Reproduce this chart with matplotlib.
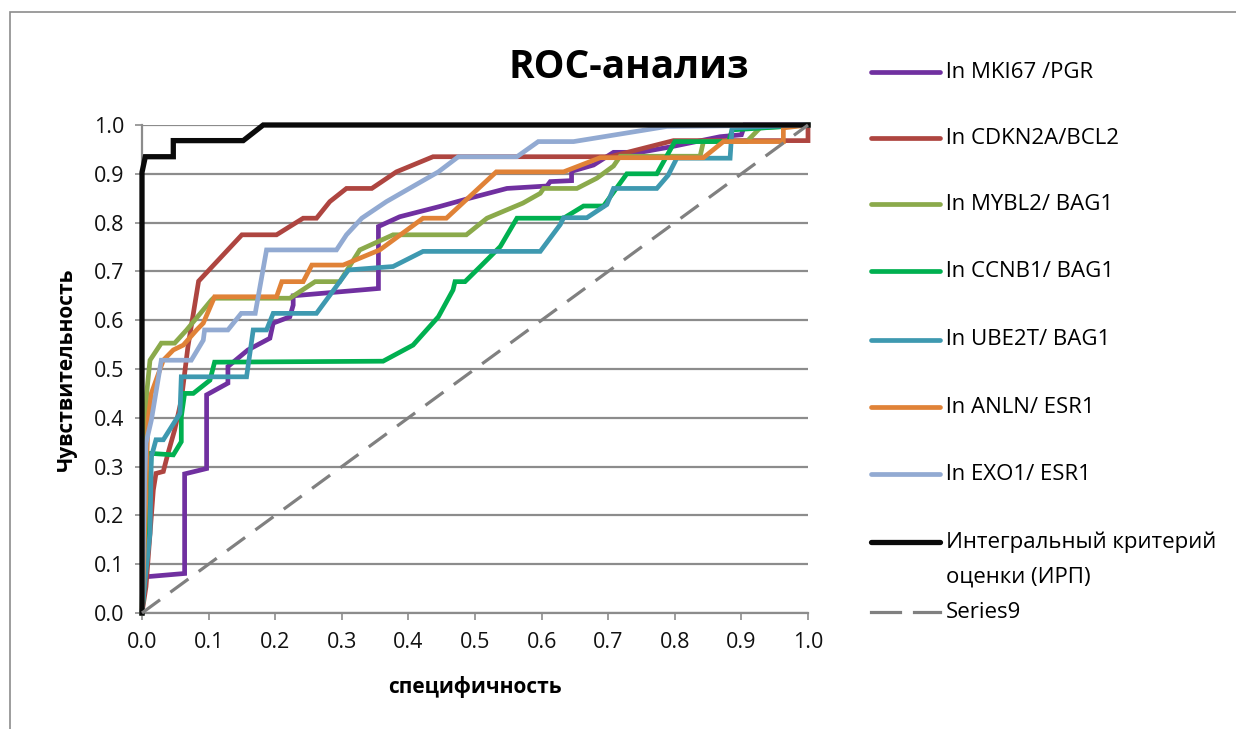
import matplotlib
matplotlib.use("Agg")
import matplotlib.pyplot as plt
from matplotlib.lines import Line2D
from matplotlib.patches import Rectangle

plt.rcParams["font.family"] = ["Open Sans", "DejaVu Sans"]

# ROC curves (x = specificity axis, y = sensitivity)
mki67_x = [0, 0.004, 0.064, 0.064, 0.097, 0.097, 0.129, 0.129, 0.159, 0.192, 0.197, 0.222, 0.227, 0.227,
           0.355, 0.355, 0.387, 0.447, 0.492, 0.548, 0.608, 0.613, 0.645, 0.645, 0.678, 0.708, 0.748,
           0.793, 0.868, 0.900, 0.905, 1.0]
mki67_y = [0, 0.074, 0.081, 0.285, 0.296, 0.447, 0.471, 0.505, 0.539, 0.563, 0.594, 0.607, 0.631, 0.650,
           0.665, 0.792, 0.812, 0.833, 0.850, 0.870, 0.875, 0.884, 0.886, 0.905, 0.918, 0.944, 0.944,
           0.955, 0.976, 0.980, 1.0, 1.0]

cdkn2a_x = [0, 0.006, 0.017, 0.021, 0.032, 0.039, 0.049, 0.059, 0.069, 0.085, 0.150, 0.202, 0.242, 0.262,
            0.282, 0.307, 0.345, 0.382, 0.437, 0.703, 0.798, 1.0, 1.0]
cdkn2a_y = [0, 0.054, 0.252, 0.286, 0.290, 0.327, 0.375, 0.436, 0.546, 0.680, 0.775, 0.775, 0.809, 0.809,
            0.843, 0.870, 0.870, 0.904, 0.935, 0.935, 0.968, 0.968, 1.0]

mybl2_x = [0, 0.004, 0.007, 0.012, 0.029, 0.049, 0.067, 0.104, 0.107, 0.222, 0.26, 0.297, 0.327, 0.377,
           0.487, 0.518, 0.572, 0.598, 0.603, 0.653, 0.683, 0.708, 0.718, 0.838, 0.843, 0.908, 0.928, 1.0]
mybl2_y = [0, 0.30, 0.45, 0.518, 0.553, 0.553, 0.58, 0.641, 0.645, 0.645, 0.679, 0.679, 0.744, 0.775,
           0.775, 0.809, 0.84, 0.86, 0.87, 0.87, 0.891, 0.916, 0.936, 0.936, 0.966, 0.966, 0.994, 1.0]

ccnb1_x = [0, 0.004, 0.014, 0.047, 0.059, 0.059, 0.064, 0.077, 0.102, 0.109, 0.362, 0.407, 0.445, 0.467,
           0.47, 0.485, 0.508, 0.538, 0.563, 0.633, 0.663, 0.693, 0.728, 0.773, 0.8, 0.881, 0.886, 1.0]
ccnb1_y = [0, 0.068, 0.327, 0.324, 0.351, 0.402, 0.45, 0.45, 0.477, 0.514, 0.516, 0.549, 0.607, 0.662,
           0.679, 0.679, 0.71, 0.751, 0.809, 0.809, 0.834, 0.834, 0.9, 0.9, 0.966, 0.966, 0.99, 1.0]

ube2t_x = [0, 0.004, 0.012, 0.014, 0.021, 0.032, 0.057, 0.059, 0.157, 0.167, 0.187, 0.197, 0.262, 0.31,
           0.377, 0.422, 0.598, 0.628, 0.633, 0.668, 0.698, 0.708, 0.773, 0.79, 0.803, 0.883, 0.886, 1.0]
ube2t_y = [0, 0.06, 0.163, 0.32, 0.355, 0.355, 0.409, 0.484, 0.484, 0.58, 0.58, 0.614, 0.614, 0.703,
           0.71, 0.741, 0.741, 0.796, 0.81, 0.81, 0.837, 0.87, 0.87, 0.897, 0.932, 0.932, 0.994, 1.0]

anln_x = [0, 0.006, 0.006, 0.009, 0.014, 0.032, 0.047, 0.062, 0.082, 0.092, 0.109, 0.202, 0.21, 0.242,
          0.255, 0.302, 0.357, 0.422, 0.457, 0.532, 0.633, 0.688, 0.843, 0.873, 0.963, 0.963, 1.0]
anln_y = [0, 0.245, 0.262, 0.395, 0.45, 0.518, 0.539, 0.549, 0.58, 0.594, 0.648, 0.648, 0.679, 0.679,
          0.713, 0.713, 0.744, 0.809, 0.809, 0.904, 0.904, 0.933, 0.933, 0.966, 0.966, 0.994, 1.0]

exo1_x = [0, 0.004, 0.006, 0.014, 0.019, 0.029, 0.074, 0.092, 0.094, 0.129, 0.149, 0.17, 0.187, 0.292,
          0.307, 0.33, 0.367, 0.445, 0.475, 0.563, 0.595, 0.648, 0.788, 1.0]
exo1_y = [0, 0.279, 0.348, 0.395, 0.436, 0.518, 0.518, 0.559, 0.58, 0.58, 0.614, 0.614, 0.744, 0.744,
          0.775, 0.809, 0.843, 0.904, 0.935, 0.935, 0.966, 0.966, 0.997, 1.0]

irp_x = [0, 0, 0.005, 0.047, 0.047, 0.152, 0.182, 1.0]
irp_y = [0, 0.903, 0.935, 0.935, 0.968, 0.968, 1.0, 1.0]

diag_x = [0, 1]
diag_y = [0, 1]

labels = ["ln MKI67 /PGR", "ln CDKN2A/BCL2", "ln MYBL2/ BAG1", "ln CCNB1/ BAG1",
          "ln UBE2T/ BAG1", "ln ANLN/ ESR1", "ln EXO1/ ESR1",
          "Интегральный критерий\nоценки (ИРП)", "Series9"]
colors = ["#7030A0", "#AE4540", "#8BAA4B", "#00B050", "#3E99B0", "#E08237", "#92AAD2",
          "#0A0A0A", "#808080"]
series = [(mki67_x, mki67_y), (cdkn2a_x, cdkn2a_y), (mybl2_x, mybl2_y), (ccnb1_x, ccnb1_y),
          (ube2t_x, ube2t_y), (anln_x, anln_y), (exo1_x, exo1_y), (irp_x, irp_y), (diag_x, diag_y)]

W, H = 1236, 729
fig = plt.figure(figsize=(W / 100, H / 100), dpi=100)


def fx(px):
    return px / W


def fy(py):
    return 1 - py / H


ax = fig.add_axes([fx(142), fy(613), fx(808) - fx(142), fy(125) - fy(613)])

for i, (xs, ys) in enumerate(series):
    if i == 8:
        ax.plot(xs, ys, color=colors[i], lw=2.3, linestyle=(0, (7, 4)), clip_on=False, zorder=10)
    else:
        lw = 3.8 if i == 7 else 3.4
        ax.plot(xs, ys, color=colors[i], lw=lw, clip_on=False, zorder=3 + i,
                solid_joinstyle="miter")

ax.set_xlim(0, 1)
ax.set_ylim(0, 1)
ax.set_xticks([i / 10 for i in range(11)])
ax.set_yticks([i / 10 for i in range(11)])
ax.xaxis.set_major_formatter(matplotlib.ticker.FormatStrFormatter("%.1f"))
ax.yaxis.set_major_formatter(matplotlib.ticker.FormatStrFormatter("%.1f"))
ax.grid(axis="y", color="#8C8C8C", lw=1.6)
ax.set_axisbelow(True)
for s in ["top", "right"]:
    ax.spines[s].set_visible(False)
for s in ["left", "bottom"]:
    ax.spines[s].set_color("#8C8C8C")
    ax.spines[s].set_linewidth(1.6)
ax.tick_params(axis="x", length=5, width=1.2, color="#8C8C8C", pad=9, labelsize=15.5, labelcolor="#111111")
ax.tick_params(axis="y", length=5, width=1.2, color="#8C8C8C", pad=8, labelsize=15.5, labelcolor="#111111")

ax.set_xlabel("специфичность", fontsize=15, fontweight="bold", labelpad=16)
ax.set_ylabel("Чувствительность", fontsize=15, fontweight="bold", labelpad=12)

fig.text(fx(629), fy(68), "ROC-анализ", fontsize=28, fontweight="bold", ha="center", va="center")

# legend drawn by hand to keep Excel-like spacing
leg_y = [72, 138, 204, 271, 340, 407, 474, 542, 612]
for i, lab in enumerate(labels):
    yy = leg_y[i]
    if i == 8:
        fig.add_artist(Line2D([fx(871), fx(900)], [fy(yy), fy(yy)], color=colors[i], lw=2.3,
                              transform=fig.transFigure))
        fig.add_artist(Line2D([fx(914), fx(940)], [fy(yy), fy(yy)], color=colors[i], lw=2.3,
                              transform=fig.transFigure))
    else:
        fig.add_artist(Line2D([fx(871), fx(940)], [fy(yy), fy(yy)], color=colors[i],
                              lw=3.8 if i == 7 else 3.4, solid_capstyle="round",
                              transform=fig.transFigure))
    if i == 7:
        fig.text(fx(946), fy(yy), "Интегральный критерий", fontsize=16, va="center", ha="left")
        fig.text(fx(946), fy(yy + 35), "оценки (ИРП)", fontsize=16, va="center", ha="left")
    else:
        fig.text(fx(946), fy(yy), lab, fontsize=16, va="center", ha="left")

fig.add_artist(Rectangle((fx(10), fy(740)), 2, fy(12) - fy(740), transform=fig.transFigure,
                         fill=False, edgecolor="#8C8C8C", lw=1.2))

fig.savefig("out.png", dpi=100)
